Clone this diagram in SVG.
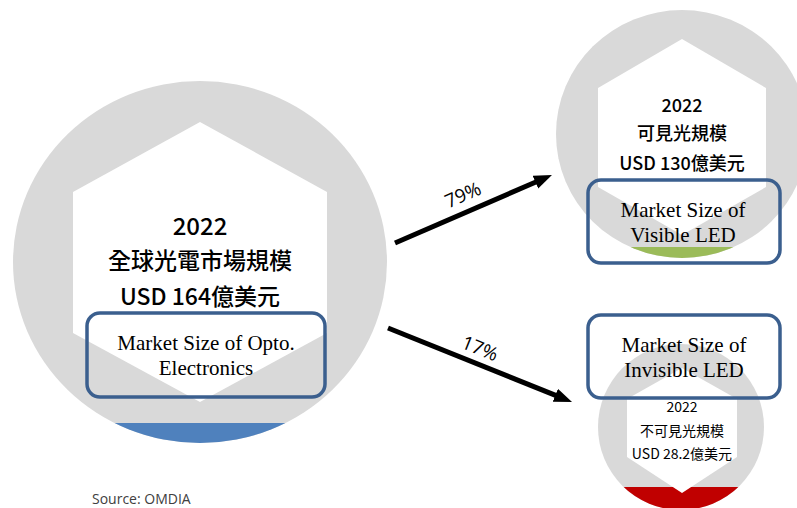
<svg xmlns="http://www.w3.org/2000/svg" width="797" height="508" viewBox="0 0 797 508">
<style>
.ring{fill:#d9d9d9}
.hex{fill:#ffffff}
.box{fill:none;stroke:#3b5f8e;stroke-width:3.5}
.cjk{font-family:"Noto Sans CJK TC","Noto Sans",sans-serif;font-weight:500;fill:#000;text-anchor:middle}
.cjk-s{font-family:"Noto Sans CJK TC","Noto Sans",sans-serif;font-weight:400;fill:#000;text-anchor:middle}
.serif{font-family:"Liberation Serif","Times New Roman",serif;font-size:21px;fill:#000;text-anchor:middle}
.pct{font-family:"Open Sans","Noto Sans",sans-serif;font-size:19px;fill:#000;text-anchor:middle}
.src{font-family:"Open Sans","Noto Sans",sans-serif;font-size:14px;fill:#404040}
.arr{stroke:#000;stroke-width:5;fill:none;marker-end:url(#ah)}
</style>
<defs>
<marker id="ah" markerUnits="userSpaceOnUse" markerWidth="20" markerHeight="16" refX="3" refY="7" orient="auto">
<path d="M0,0 L18,7 L0,14 z" fill="#000"/>
</marker>
<clipPath id="c1"><ellipse cx="200" cy="262" rx="187" ry="181"/></clipPath>
<clipPath id="c2"><ellipse cx="682" cy="134" rx="126" ry="124"/></clipPath>
<clipPath id="c3"><circle cx="681" cy="427" r="83"/></clipPath>
</defs>
<rect width="797" height="508" fill="#ffffff"/>

<g id="node-opto">
<ellipse class="ring" cx="200" cy="262" rx="187" ry="181"/>
<rect x="0" y="423" width="400" height="40" fill="#4f81bd" clip-path="url(#c1)"/>
<polygon class="hex" points="200,122 327,192 327,333 200,402 73,333 73,192"/>
<text class="cjk" x="200" y="235" font-size="24">2022</text>
<text class="cjk" x="200" y="269" font-size="23">全球光電市場規模</text>
<text class="cjk" x="200" y="305" font-size="23">USD 164億美元</text>
<rect class="box" x="87" y="313" width="238" height="84" rx="13"/>
<text class="serif" x="206" y="350">Market Size of Opto.</text>
<text class="serif" x="206" y="375">Electronics</text>
</g>

<g id="node-visible">
<ellipse class="ring" cx="682" cy="134" rx="126" ry="124"/>
<rect x="540" y="247" width="280" height="20" fill="#9bbb59" clip-path="url(#c2)"/>
<polygon class="hex" points="682,39 766,88 766,187 682,235 598,187 598,88"/>
<text class="cjk" x="682" y="112" font-size="18">2022</text>
<text class="cjk" x="682" y="140" font-size="18">可見光規模</text>
<text class="cjk" x="682" y="170" font-size="18">USD 130億美元</text>
<rect class="box" x="588" y="180" width="192" height="83" rx="13"/>
<text class="serif" x="683" y="217">Market Size of</text>
<text class="serif" x="683" y="242">Visible LED</text>
</g>

<g id="node-invisible">
<circle class="ring" cx="681" cy="427" r="83"/>
<rect x="590" y="487" width="190" height="30" fill="#c00000" clip-path="url(#c3)"/>
<polygon class="hex" points="682,368 737,399 737,457 682,493 627,457 627,399"/>
<text class="cjk-s" x="682" y="412" font-size="14">2022</text>
<text class="cjk-s" x="682" y="436" font-size="14">不可見光規模</text>
<text class="cjk-s" x="682" y="459" font-size="14">USD 28.2億美元</text>
<rect class="box" x="588" y="315" width="192" height="83" rx="13"/>
<text class="serif" x="684" y="352">Market Size of</text>
<text class="serif" x="684" y="377">Invisible LED</text>
</g>

<g id="connectors">
<line class="arr" x1="395" y1="243" x2="538.2" y2="181"/>
<line class="arr" x1="388" y1="328" x2="558.1" y2="396.4"/>
<text class="pct" transform="translate(463,195) rotate(-23.4)" y="6.5">79%</text>
<text class="pct" transform="translate(480,348.5) rotate(21.9)" y="6.5">17%</text>
</g>

<text class="src" x="92" y="504">Source: OMDIA</text>
</svg>
